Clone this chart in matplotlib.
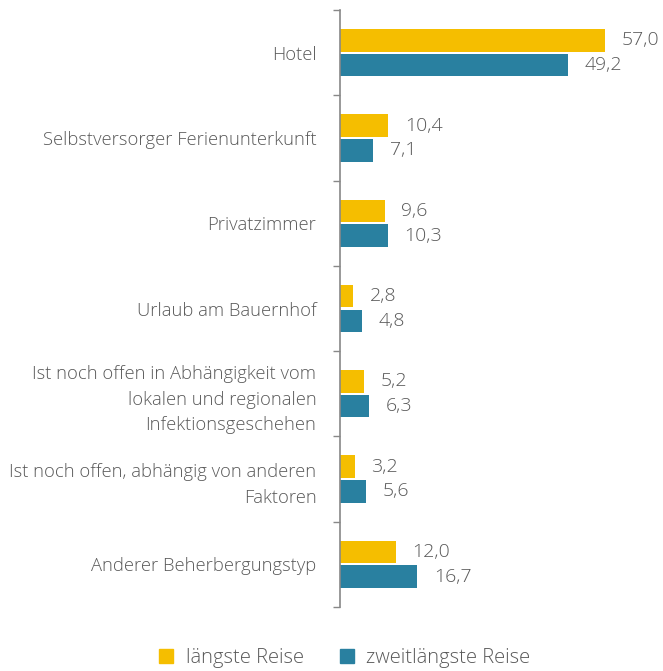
import matplotlib
matplotlib.use("Agg")
import matplotlib.pyplot as plt
import numpy as np
from matplotlib.patches import Patch

categories = ["Hotel", "Selbstversorger Ferienunterkunft", "Privatzimmer",
              "Urlaub am Bauernhof",
              "Ist noch offen in Abhängigkeit vom\nlokalen und regionalen\nInfektionsgeschehen",
              "Ist noch offen, abhängig von anderen\nFaktoren",
              "Anderer Beherbergungstyp"]
laengste = [57.0, 10.4, 9.6, 2.8, 5.2, 3.2, 12.0]
zweitlaengste = [49.2, 7.1, 10.3, 4.8, 6.3, 5.6, 16.7]
series_names = ["längste Reise", "zweitlängste Reise"]

c1 = "#F5BE00"
c2 = "#2980A0"
tc = "#595959"

plt.rcParams['font.family'] = ['Open Sans', 'DejaVu Sans']

fig = plt.figure(figsize=(6.63, 6.71), dpi=100)
ax = fig.add_axes([0.5128, 0.0954, 0.455, 0.8896])

n = len(categories)
y = np.arange(n)
h = 0.265
off = 0.145
ax.barh(y - off, laengste, height=h, color=c1)
ax.barh(y + off, zweitlaengste, height=h, color=c2)
for yi, v in zip(y, laengste):
    ax.text(v + 3.6, yi - off, f"{v:.1f}".replace(".", ","), va="center", ha="left",
            fontsize=14, color=tc, fontweight="light")
for yi, v in zip(y, zweitlaengste):
    ax.text(v + 3.6, yi + off, f"{v:.1f}".replace(".", ","), va="center", ha="left",
            fontsize=14, color=tc, fontweight="light")

ax.set_xlim(0, 65)
ax.set_ylim(n - 0.5, -0.5)
ax.set_yticks(y)
ax.set_yticklabels(categories, fontsize=13.2, color=tc, linespacing=1.55, fontweight="light")
ax.tick_params(axis='y', which='major', length=0, pad=17)
ax.set_yticks(np.arange(-0.5, n + 0.5, 1), minor=True)
ax.tick_params(axis='y', which='minor', length=5, color="#888888", width=1)
ax.set_xticks([])
for s in ["top", "right", "bottom"]:
    ax.spines[s].set_visible(False)
ax.spines["left"].set_color("#888888")
ax.spines["left"].set_linewidth(1.2)

handles = [Patch(color=c1, label=series_names[0]), Patch(color=c2, label=series_names[1])]
fig.legend(handles=handles, loc="center", bbox_to_anchor=(0.52, 0.019), ncol=2, frameon=False,
           prop={"size": 14.5, "weight": "light"}, labelcolor=tc, handlelength=0.7, handleheight=0.7,
           handletextpad=0.6, columnspacing=1.8)

fig.savefig("out.png", dpi=100)
